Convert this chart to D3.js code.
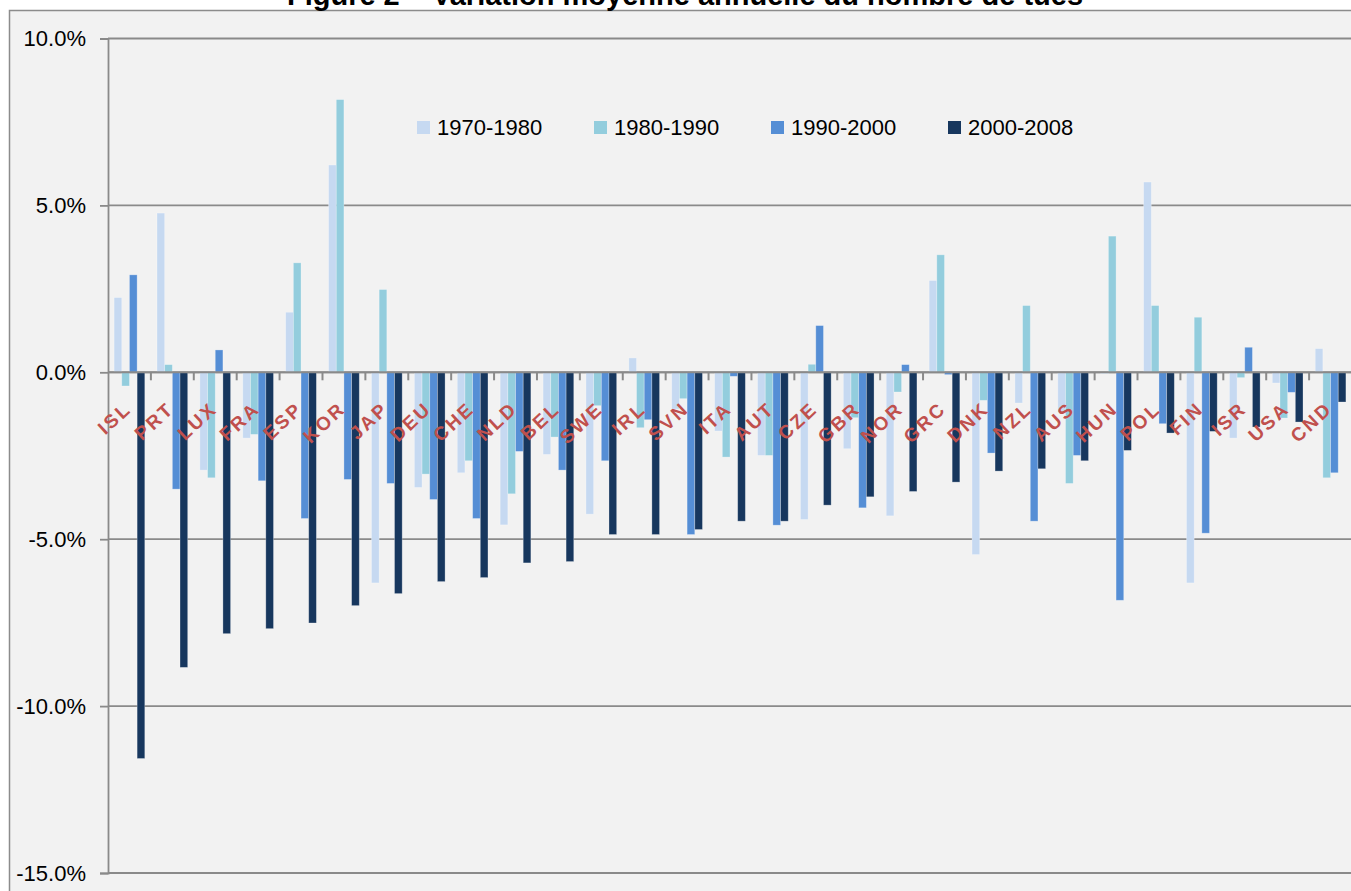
<!DOCTYPE html>
<html>
<head>
<meta charset="utf-8">
<script src="https://cdn.jsdelivr.net/npm/d3@7"></script>
<style>
  body { margin: 0; background: #fff; }
  svg text { font-family: Arial, "Liberation Sans", sans-serif; }
</style>
</head>
<body>
<div id="chart"></div>
<script>
// Data (annual average change, %)
var countries = ["ISL","PRT","LUX","FRA","ESP","KOR","JAP","DEU","CHE","NLD","BEL","SWE","IRL","SVN","ITA",
                 "AUT","CZE","GBR","NOR","GRC","DNK","NZL","AUS","HUN","POL","FIN","ISR","USA","CND"];
var series = ["1970-1980", "1980-1990", "1990-2000", "2000-2008"];
var v1970 = [2.24, 4.77, -2.93, -1.97, 1.80, 6.21, -6.31, -3.45, -3.01, -4.57, -2.46, -4.25, 0.43, -1.10, -1.76,
             -2.49, -4.41, -2.29, -4.30, 2.75, -5.46, -0.92, -1.20, -0.04, 5.70, -6.31, -1.97, -0.32, 0.71];
var v1980 = [-0.41, 0.23, -3.16, -1.86, 3.28, 8.17, 2.48, -3.05, -2.65, -3.64, -1.94, -1.00, -1.66, -0.79, -2.54,
             -2.49, 0.24, -1.36, -0.59, 3.52, -0.84, 2.00, -3.33, 4.08, 2.00, 1.65, -0.16, -1.37, -3.16];
var v1990 = [2.92, -3.50, 0.67, -3.25, -4.38, -3.21, -3.33, -3.81, -4.38, -2.37, -2.93, -2.65, -1.42, -4.86, -0.12,
             -4.58, 1.40, -4.06, 0.23, -0.07, -2.42, -4.46, -2.49, -6.83, -1.54, -4.82, 0.75, -0.60, -3.01];
var v2000 = [-11.57, -8.84, -7.83, -7.68, -7.51, -6.99, -6.63, -6.27, -6.15, -5.71, -5.67, -4.86, -4.86, -4.71, -4.46,
             -4.46, -3.98, -3.73, -3.57, -3.29, -2.96, -2.89, -2.65, -2.34, -1.82, -1.77, -1.64, -1.49, -0.89];
var yTicks = [-15, -10, -5, 0, 5, 10];
var colors = ["#c6d9f1", "#93cddd", "#558ed5", "#17375e"];

var values = [v1970, v1980, v1990, v2000];
var data = countries.map(function (c, i) {
    return { country: c, vals: series.map(function (s, k) { return { key: s, value: values[k][i] }; }) };
});

var W = 1351, H = 891;
var plot = { left: 108, right: 1352, top: 38.5, bottom: 873 };

var svg = d3.select("#chart").append("svg")
    .attr("width", W)
    .attr("height", H);

// Chart frame
svg.append("rect")
    .attr("x", 9.5).attr("y", 10.5)
    .attr("width", W + 20).attr("height", H + 20)
    .attr("fill", "#f2f2f2")
    .attr("stroke", "#8c8c8c")
    .attr("stroke-width", 1.5);

// Title (cut at the top edge, as in the original)
svg.append("text")
    .attr("x", 685)
    .attr("y", 5)
    .attr("text-anchor", "middle")
    .style("font-size", "29px")
    .style("font-weight", "bold")
    .text("Figure 2 – Variation moyenne annuelle du nombre de tués");

// Scales
var x0 = d3.scaleBand()
    .domain(countries)
    .range([plot.left, plot.right])
    .padding(0);
var x1 = d3.scaleBand()
    .domain(series)
    .range([x0.bandwidth() * 0.142, x0.bandwidth() * 0.858]);
var y = d3.scaleLinear()
    .domain([-15, 10])
    .range([plot.bottom, plot.top]);
var color = d3.scaleOrdinal().domain(series).range(colors);

// Gridlines
svg.append("g")
    .selectAll("line")
    .data(yTicks)
    .enter().append("line")
    .attr("x1", plot.left).attr("x2", W)
    .attr("y1", function (d) { return y(d); })
    .attr("y2", function (d) { return y(d); })
    .attr("stroke", "#8a8a8a")
    .attr("stroke-width", 1.8);

// Y axis
var yAxis = svg.append("g")
    .attr("transform", "translate(" + plot.left + ",0)")
    .call(d3.axisLeft(y)
        .tickValues(yTicks)
        .tickSize(8)
        .tickPadding(14)
        .tickFormat(function (d) { return d.toFixed(1) + "%"; }));
yAxis.select(".domain").attr("stroke", "#8a8a8a").attr("stroke-width", 1.8);
yAxis.selectAll(".tick line").attr("stroke", "#8a8a8a").attr("stroke-width", 1.8);
yAxis.selectAll(".tick text")
    .style("font-size", "22px")
    .style("font-family", "Arial, 'Liberation Sans', sans-serif")
    .attr("fill", "#000");

// Bars
var groups = svg.append("g")
    .selectAll("g")
    .data(data)
    .enter().append("g")
    .attr("transform", function (d) { return "translate(" + x0(d.country) + ",0)"; });

groups.selectAll("rect")
    .data(function (d) { return d.vals; })
    .enter().append("rect")
    .attr("x", function (d) { return x1(d.key); })
    .attr("width", x1.bandwidth())
    .attr("y", function (d) { return y(Math.max(0, d.value)); })
    .attr("height", function (d) { return Math.abs(y(d.value) - y(0)); })
    .attr("fill", function (d) { return color(d.key); })
    .attr("stroke", "#ffffff")
    .attr("stroke-opacity", 0.35)
    .attr("stroke-width", 0.8);

// Zero axis with category ticks
svg.append("line")
    .attr("x1", plot.left).attr("x2", W)
    .attr("y1", y(0)).attr("y2", y(0))
    .attr("stroke", "#8a8a8a")
    .attr("stroke-width", 2);
svg.append("g")
    .selectAll("line")
    .data(countries.slice(1))
    .enter().append("line")
    .attr("x1", function (d) { return x0(d); })
    .attr("x2", function (d) { return x0(d); })
    .attr("y1", y(0))
    .attr("y2", y(0) + 8)
    .attr("stroke", "#8a8a8a")
    .attr("stroke-width", 2);

// Category labels
svg.append("g")
    .selectAll("text")
    .data(countries)
    .enter().append("text")
    .attr("transform", function (d) {
        return "translate(" + (x0(d) + x0.bandwidth() / 2 + 3) + "," + (y(0) + 38) + ") rotate(-43)";
    })
    .attr("text-anchor", "end")
    .style("font-size", "19px")
    .style("font-weight", "900")
    .style("letter-spacing", "2.5px")
    .attr("fill", "#c0504d")
    .text(function (d) { return d; });

// Legend
var legend = svg.append("g")
    .selectAll("g")
    .data(series)
    .enter().append("g")
    .attr("transform", function (d, i) { return "translate(" + (417 + i * 177) + ",121)"; });
legend.append("rect")
    .attr("width", 13).attr("height", 13)
    .attr("fill", function (d) { return color(d); });
legend.append("text")
    .attr("x", 20)
    .attr("y", 6.5)
    .attr("dy", "0.36em")
    .style("font-size", "22px")
    .text(function (d) { return d; });
</script>
</body>
</html>
